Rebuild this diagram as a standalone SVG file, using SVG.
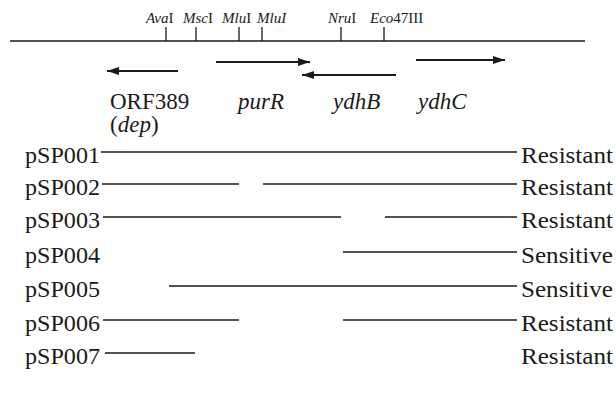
<svg xmlns="http://www.w3.org/2000/svg" width="616" height="403" viewBox="0 0 616 403">
<style>
text{font-family:"Liberation Serif","Times New Roman",Tinos,"Nimbus Roman","Noto Serif","DejaVu Serif",FreeSerif,serif;fill:#1a1a1a}
.site{font-size:15px}
.lbl{font-size:23px}
.i{font-style:italic}
.ln{stroke:#1a1a1a;stroke-width:1.3;fill:none}
.gene{stroke:#1a1a1a;stroke-width:1.8;fill:none}
</style>
<defs>
<marker id="ah" viewBox="0 0 12 10" refX="12" refY="5" markerWidth="12" markerHeight="10" markerUnits="userSpaceOnUse" orient="auto">
<path d="M0,1 L12,5 L0,9 z" fill="#1a1a1a"/>
</marker>
</defs>
<rect width="616" height="403" fill="#fff"/>
<g id="map">
<line class="ln" x1="10" y1="41" x2="585" y2="41" stroke-width="1.8"/>
<g class="ln">
<line x1="166" y1="27" x2="166" y2="41"/>
<line x1="196" y1="27" x2="196" y2="41"/>
<line x1="239" y1="27" x2="239" y2="41"/>
<line x1="262" y1="27" x2="262" y2="41"/>
<line x1="341" y1="27" x2="341" y2="41"/>
<line x1="384" y1="27" x2="384" y2="41"/>
</g>
<text class="site" x="146" y="23"><tspan class="i">Ava</tspan>I</text>
<text class="site" x="183" y="23"><tspan class="i">Msc</tspan>I</text>
<text class="site" x="222" y="23"><tspan class="i">Mlu</tspan>I</text>
<text class="site i" x="257" y="23">MluI</text>
<text class="site" x="328" y="23"><tspan class="i">Nru</tspan>I</text>
<text class="site" x="370" y="23"><tspan class="i">Eco</tspan>47III</text>
</g>
<g id="genes">
<line class="gene" x1="178" y1="71" x2="107" y2="71" marker-end="url(#ah)"/>
<line class="gene" x1="216" y1="62" x2="310" y2="62" marker-end="url(#ah)"/>
<line class="gene" x1="396" y1="75" x2="302" y2="75" marker-end="url(#ah)"/>
<line class="gene" x1="416" y1="60" x2="505" y2="60" marker-end="url(#ah)"/>
<text class="lbl" x="110" y="109">ORF389</text>
<text class="lbl" x="110" y="132">(<tspan class="i">dep</tspan>)</text>
<text class="lbl i" x="238" y="109">purR</text>
<text class="lbl i" x="333" y="109">ydhB</text>
<text class="lbl i" x="418" y="109">ydhC</text>
</g>
<g id="labels" class="lbl">
<text x="25" y="163" textLength="75" lengthAdjust="spacingAndGlyphs">pSP001</text>
<text x="25" y="195" textLength="75" lengthAdjust="spacingAndGlyphs">pSP002</text>
<text x="25" y="228" textLength="75" lengthAdjust="spacingAndGlyphs">pSP003</text>
<text x="25" y="263" textLength="75" lengthAdjust="spacingAndGlyphs">pSP004</text>
<text x="25" y="297" textLength="75" lengthAdjust="spacingAndGlyphs">pSP005</text>
<text x="25" y="331" textLength="75" lengthAdjust="spacingAndGlyphs">pSP006</text>
<text x="25" y="364" textLength="75" lengthAdjust="spacingAndGlyphs">pSP007</text>
<text x="521" y="163" textLength="92" lengthAdjust="spacingAndGlyphs">Resistant</text>
<text x="521" y="195" textLength="92" lengthAdjust="spacingAndGlyphs">Resistant</text>
<text x="521" y="228" textLength="92" lengthAdjust="spacingAndGlyphs">Resistant</text>
<text x="521" y="263" textLength="92" lengthAdjust="spacingAndGlyphs">Sensitive</text>
<text x="521" y="297" textLength="92" lengthAdjust="spacingAndGlyphs">Sensitive</text>
<text x="521" y="331" textLength="92" lengthAdjust="spacingAndGlyphs">Resistant</text>
<text x="521" y="364" textLength="92" lengthAdjust="spacingAndGlyphs">Resistant</text>
</g>
<g id="connectors" class="ln">
<line x1="101" y1="152" x2="517" y2="152"/>
<line x1="102" y1="184" x2="239" y2="184"/>
<line x1="263" y1="184" x2="517" y2="184"/>
<line x1="103" y1="217" x2="341" y2="217"/>
<line x1="385" y1="217" x2="517" y2="217"/>
<line x1="343" y1="252" x2="517" y2="252"/>
<line x1="169" y1="286" x2="517" y2="286"/>
<line x1="103" y1="320" x2="239" y2="320"/>
<line x1="343" y1="320" x2="517" y2="320"/>
<line x1="105" y1="353" x2="195" y2="353"/>
</g>
</svg>
